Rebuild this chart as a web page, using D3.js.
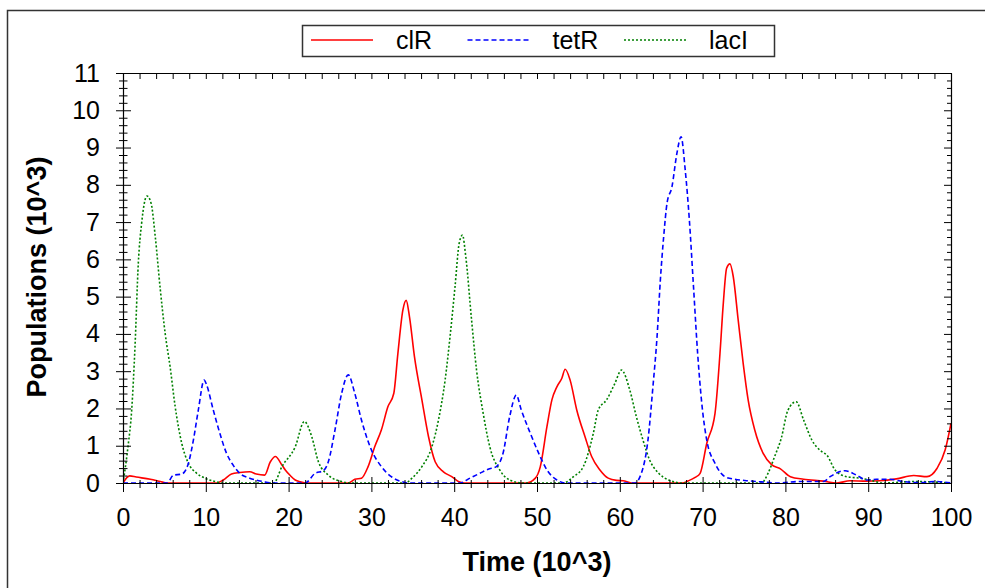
<!DOCTYPE html>
<html>
<head>
<meta charset="utf-8">
<script src="https://cdn.jsdelivr.net/npm/d3@7"></script>
<style>
  body { margin: 0; background: #fff; }
  svg { display: block; font-family: "Liberation Sans", Arial, sans-serif; }
</style>
</head>
<body>
<div id="chart"></div>
<script>
var w = 985;
var h = 588;

// plot box
var plotLeft = 123, plotRight = 951, plotTop = 73, plotBottom = 483;

// time (10^3) and populations (10^3)
var clRTime = [0, 0.8, 1.6, 3.3, 4.5, 5.3, 11.3, 12.1, 13.1, 14.1, 15.3, 16.1, 17.1, 17.8, 18.4, 19.2, 19.6, 20.2, 20.8, 21.4, 22,
  27.2, 28, 28.8, 29.6, 30.4, 31.2, 32, 32.7, 33.2, 33.8, 34.2, 34.6, 35.2, 36.1, 36.9, 37.7, 38.7, 39.7, 40.5, 41.2,
  48.7, 49.8, 50.4, 51.2, 51.8, 52.4, 53, 53.4, 54, 54.8, 55.8, 56.6, 57.6, 58.6, 59.6, 60.4, 61.4,
  67.5, 68.3, 69.1, 69.7, 70.5, 71.5, 72.1, 72.5, 72.9, 73.3, 73.7, 74.3, 74.9, 75.5, 76.3, 77.3, 78.3, 79.4, 80.6,
  82.2, 84.6, 86.2, 87.8, 89.8, 91.4, 93.4, 95.5, 97.1, 98.3, 99.3, 100];
var clRValues = [0, 0.19, 0.16, 0.1, 0.04, 0, 0, 0.08, 0.24, 0.28, 0.3, 0.24, 0.21, 0.57, 0.71, 0.48, 0.35, 0.2, 0.08, 0.03, 0,
  0, 0.1, 0.13, 0.44, 0.97, 1.42, 2.05, 2.4, 3.48, 4.64, 4.9, 4.46, 3.39, 2.23, 1.24, 0.57, 0.3, 0.17, 0.04, 0,
  0, 0.13, 0.44, 1.51, 2.23, 2.58, 2.81, 3.05, 2.76, 1.96, 1.24, 0.71, 0.35, 0.13, 0.07, 0.06, 0,
  0, 0.06, 0.15, 0.26, 1.06, 1.87, 3.48, 4.82, 5.76, 5.88, 5.54, 4.37, 3.21, 2.23, 1.42, 0.8, 0.5, 0.38, 0.17,
  0.1, 0.05, 0, 0.06, 0.05, 0.06, 0.11, 0.2, 0.17, 0.39, 0.89, 1.6];

var tetRTime = [0, 5.3, 6.1, 7.1, 7.9, 8.5, 9.1, 9.8, 10.1, 10.9, 11.7, 12.5, 13.3, 14.1, 15.3, 16.9, 18,
  22, 23.2, 24.2, 24.8, 25.6, 26.4, 27.2, 28, 28.8, 30, 31.2, 32.4, 33.6, 34.5,
  40.7, 41.9, 43.1, 44.1, 45.1, 45.9, 46.7, 47.5, 48.1, 49.2, 50.2, 51.2, 52.4, 53.5,
  61.8, 62.6, 63.4, 64, 64.5, 64.9, 65.3, 65.7, 66.3, 66.9, 67.4, 67.9, 68.4, 68.9, 69.4, 69.9, 70.5, 71.5, 72.7, 73.9, 75.5, 77.1, 79,
  81.8, 84.6, 85.4, 87.2, 88.6, 89.8, 91, 92.6, 94.2, 96.3, 98.1, 100];
var tetRValues = [0, 0, 0.21, 0.24, 0.53, 1.15, 1.96, 2.76, 2.63, 1.96, 1.33, 0.8, 0.48, 0.26, 0.13, 0.04, 0,
  0, 0.26, 0.33, 0.57, 1.42, 2.4, 2.9, 2.4, 1.69, 0.89, 0.44, 0.17, 0.04, 0,
  0, 0.13, 0.26, 0.37, 0.44, 0.8, 1.78, 2.36, 1.96, 1.33, 0.8, 0.35, 0.08, 0,
  0, 0.26, 1.15, 2.58, 3.93, 5.45, 6.61, 7.5, 7.95, 8.85, 9.29, 8.4, 7.06, 5.27, 3.48, 2.14, 1.15, 0.53, 0.17, 0.1, 0.06, 0.03, 0,
  0.04, 0.04, 0.17, 0.33, 0.21, 0.08, 0.1, 0.1, 0.04, 0.01, 0.04, 0];

var lacITime = [0, 0.6, 1.05, 1.45, 1.85, 2.25, 2.9, 3.4, 3.9, 4.5, 5.1, 5.7, 6.3, 7.1, 7.9, 8.9, 9.9, 11.1, 12,
  18.2, 19.2, 20.8, 21.9, 22.8, 23.6, 24.8, 26.4, 27.5,
  34.1, 34.9, 36.1, 37.3, 38.1, 38.9, 39.5, 40.1, 40.6, 41, 41.4, 42.1, 42.7, 43.5, 44.3, 45.5, 46.7, 48.3,
  53.2, 54.4, 55.6, 56.8, 57.4, 58.4, 59.4, 60.2, 61.2, 62, 62.8, 63.6, 64.7, 65.9, 67.5,
  77.1, 77.9, 78.7, 79.5, 80.3, 81.3, 82.2, 83.2, 84.4, 85, 86, 87.4, 89, 90.2, 91.8, 95.5, 100];
var lacIValues = [0, 0.97, 1.96, 3.66, 5.9, 6.97, 7.7, 7.5, 6.6, 5.2, 4.0, 3.1, 2.05, 1.06, 0.53, 0.26, 0.13, 0.04, 0,
  0, 0.44, 0.97, 1.65, 1.24, 0.57, 0.21, 0.04, 0,
  0, 0.13, 0.44, 0.97, 1.69, 2.76, 3.93, 5.27, 6.43, 6.65, 6.07, 4.37, 3.03, 1.87, 0.97, 0.35, 0.08, 0,
  0, 0.17, 0.44, 1.33, 1.96, 2.23, 2.67, 3.03, 2.5, 1.78, 1.15, 0.62, 0.26, 0.08, 0,
  0, 0.26, 0.71, 1.2, 1.95, 2.18, 1.69, 1.15, 0.84, 0.75, 0.35, 0.17, 0.13, 0.08, 0, 0.04, 0];

var xTicks = [0, 10, 20, 30, 40, 50, 60, 70, 80, 90, 100];
var yTicks = [0, 1, 2, 3, 4, 5, 6, 7, 8, 9, 10, 11];

var series = [
  { name: "clR", time: clRTime, values: clRValues, color: "#ff0000", dash: null },
  { name: "lacI", time: lacITime, values: lacIValues, color: "#008000", dash: "2,2" },
  { name: "tetR", time: tetRTime, values: tetRValues, color: "#0000ff", dash: "5,3" }
];
var legendOrder = ["clR", "tetR", "lacI"];

var svg = d3.select("#chart")
  .append("svg")
  .attr("width", w)
  .attr("height", h);

var x = d3.scaleLinear().domain([0, 100]).range([plotLeft, plotRight]);
var y = d3.scaleLinear().domain([0, 11]).range([plotBottom, plotTop]);

// outer frame (only top and left edges show)
svg.append("path")
  .attr("d", "M7.5," + h + "V10.5H" + w)
  .attr("fill", "none")
  .attr("stroke", "#333")
  .attr("stroke-width", 1.5);

var xMinor = d3.range(0, 101, 2).filter(function (d) { return d % 10 != 0; });
var yMinor = d3.range(0, 11.01, 0.2).map(function (d) { return +d.toFixed(1); })
  .filter(function (d) { return Math.abs(d - Math.round(d)) > 0.01; });

// curves
svg.append("clipPath").attr("id", "plotClip")
  .append("rect")
  .attr("x", plotLeft).attr("y", plotTop - 2)
  .attr("width", plotRight - plotLeft).attr("height", plotBottom - plotTop + 2);

var line = d3.line()
  .x(function (d) { return x(d[0]); })
  .y(function (d) { return y(d[1]); })
  .curve(d3.curveMonotoneX);

series.forEach(function (s) {
  var pts = s.time.map(function (t, i) { return [t, s.values[i]]; });
  svg.append("path")
    .datum(pts)
    .attr("clip-path", "url(#plotClip)")
    .attr("d", line)
    .attr("fill", "none")
    .attr("stroke", s.color)
    .attr("stroke-width", 1.6)
    .attr("stroke-dasharray", s.dash);
});

function styleLabels(g) {
  g.selectAll(".tick text")
    .attr("font-size", 25)
    .attr("fill", "#000")
    .attr("font-family", "'Liberation Sans', Arial, sans-serif");
}

// bottom axis: labels and crossing ticks
var gx = svg.append("g")
  .attr("transform", "translate(0," + plotBottom + ")")
  .call(d3.axisBottom(x).tickValues(xTicks).tickSize(9).tickPadding(16).tickSizeOuter(0));
gx.selectAll(".tick line").attr("y1", -6);
gx.select(".domain").attr("stroke", "#000").attr("stroke-width", 1.2);
styleLabels(gx);

var gxm = svg.append("g")
  .attr("transform", "translate(0," + plotBottom + ")")
  .call(d3.axisBottom(x).tickValues(xMinor).tickSize(5).tickFormat(""));
gxm.selectAll(".tick line").attr("y1", -3);
gxm.select(".domain").remove();

// top axis, ticks pointing in
var gt = svg.append("g")
  .attr("transform", "translate(0," + plotTop + ")")
  .call(d3.axisTop(x).tickValues(xTicks.concat(xMinor)).tickSize(-6).tickFormat("").tickSizeOuter(0));
gt.select(".domain").attr("stroke", "#000").attr("stroke-width", 1.2);

// left axis
var gy = svg.append("g")
  .attr("transform", "translate(" + plotLeft + ",0)")
  .call(d3.axisLeft(y).tickValues(yTicks).tickSize(7).tickPadding(16).tickSizeOuter(0));
gy.selectAll(".tick line").attr("x1", 8);
gy.select(".domain").attr("stroke", "#000").attr("stroke-width", 1.2);
styleLabels(gy);

var gym = svg.append("g")
  .attr("transform", "translate(" + plotLeft + ",0)")
  .call(d3.axisLeft(y).tickValues(yMinor).tickSize(4).tickFormat(""));
gym.selectAll(".tick line").attr("x1", 4.5);
gym.select(".domain").remove();

// right axis, ticks pointing in
var gr = svg.append("g")
  .attr("transform", "translate(" + plotRight + ",0)")
  .call(d3.axisRight(y).tickValues(yTicks).tickSize(-7).tickFormat("").tickSizeOuter(0));
gr.select(".domain").attr("stroke", "#000").attr("stroke-width", 1.2);
svg.append("g")
  .attr("transform", "translate(" + plotRight + ",0)")
  .call(d3.axisRight(y).tickValues(yMinor).tickSize(-4).tickFormat(""))
  .select(".domain").remove();

// axis titles
svg.append("text")
  .attr("x", (plotLeft + plotRight) / 2)
  .attr("y", 571)
  .attr("text-anchor", "middle")
  .attr("font-size", 27)
  .attr("font-weight", "bold")
  .text("Time (10^3)");

svg.append("text")
  .attr("transform", "translate(46,277) rotate(-90)")
  .attr("text-anchor", "middle")
  .attr("font-size", 27)
  .attr("font-weight", "bold")
  .text("Populations (10^3)");

// legend
var legend = svg.append("g");
legend.append("rect")
  .attr("x", 302.5).attr("y", 25.5)
  .attr("width", 472).attr("height", 31)
  .attr("fill", "#fff")
  .attr("stroke", "#333")
  .attr("stroke-width", 1.5);

var legendX = d3.scalePoint().domain(legendOrder).range([311, 624]);

legendOrder.forEach(function (name) {
  var s = series.find(function (d) { return d.name == name; });
  var lx = legendX(name);
  legend.append("line")
    .attr("x1", lx).attr("x2", lx + 62)
    .attr("y1", 40).attr("y2", 40)
    .attr("stroke", s.color)
    .attr("stroke-width", 1.6)
    .attr("stroke-dasharray", s.dash);
  legend.append("text")
    .attr("x", lx + 85)
    .attr("y", 49)
    .attr("font-size", 25)
    .text(name);
});
</script>
</body>
</html>
